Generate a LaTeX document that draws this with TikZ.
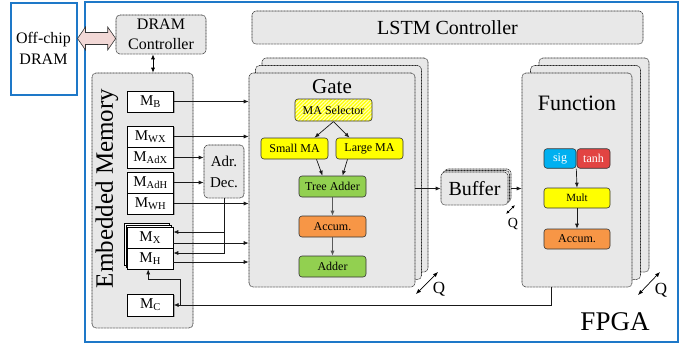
\documentclass[tikz,border=0pt]{standalone}
\usepackage{fontspec}
\setmainfont{Liberation Serif}
\usetikzlibrary{arrows.meta,shadows,patterns.meta,calc}
\newcommand{\fsz}[1]{\fontsize{#1}{#1}\selectfont}
\definecolor{fpgablue}{RGB}{30,120,200}
\definecolor{boxgray}{RGB}{232,232,232}
\definecolor{linkpink}{RGB}{242,216,214}
\definecolor{uyellow}{RGB}{255,255,0}
\definecolor{ugreen}{RGB}{146,208,80}
\definecolor{uorange}{RGB}{247,150,70}
\definecolor{ucyan}{RGB}{0,176,240}
\definecolor{ured}{RGB}{226,68,66}
\begin{document}
\begin{tikzpicture}[x=1pt,y=-1pt,
  arr/.style={-{Latex[length=5pt,width=4pt]}, line width=0.7pt, draw=black!90},
  garr/.style={-{Latex[length=5pt,width=4pt]}, line width=0.7pt, draw=black!65},
  darr/.style={{Latex[length=5pt,width=4pt]}-{Latex[length=5pt,width=4pt]}, line width=0.7pt},
  dotbox/.style={draw=black!85, dash pattern=on 0.9pt off 0.6pt, line width=0.6pt, fill=boxgray, rounded corners=4pt, inner sep=0pt},
  mem/.style={draw, line width=0.7pt, fill=white, inner sep=0pt, minimum width=45.5pt, minimum height=21pt, drop shadow={shadow xshift=1.3pt, shadow yshift=-1.3pt, fill=black!45, opacity=0.7}, font=\fsz{15}},
  stackl/.style={draw, line width=0.6pt, fill=white, inner sep=0pt, minimum width=45.5pt, minimum height=42pt},
  unit/.style={draw=black!80, line width=0.6pt, rounded corners=3pt, inner sep=0pt, minimum width=67pt, minimum height=21pt, font=\fsz{12}},
  qlbl/.style={inner sep=0pt},
]
\useasboundingbox (0,0) rectangle (688,346);

% FPGA and off-chip
\node[draw=fpgablue, line width=2pt, minimum width=593pt, minimum height=340pt, inner sep=0pt] (fpga) at (381.5,172) {};
\node[draw=fpgablue, line width=2pt, minimum width=66pt, minimum height=92pt, align=center, inner sep=0pt, font=\fontsize{16}{21}\selectfont] (offchip) at (43.5,48.5) {Off-chip\\DRAM};
\node[font=\fsz{27}, inner sep=0pt] (fpgalbl) at (615,322) {FPGA};

% DRAM controller and link
\node[dotbox, minimum width=90pt, minimum height=39pt, align=center, font=\fontsize{16}{20}\selectfont] (dramctl) at (161,34.5) {DRAM\\Controller};
\coordinate (lkL) at (offchip.east |- 0,38.5);
\coordinate (lkR) at (dramctl.west |- 0,38.5);
\draw[draw=black!80, fill=linkpink, line width=0.6pt, line join=miter]
  (lkL) -- ++(8,-11.5) -- ++(0,5.5) -- ($(lkR)+(-8,-6)$) -- ++(0,-5.5) -- (lkR)
  -- ++(-8,11.5) -- ++(0,-5.5) -- ($(lkL)+(8,6)$) -- ++(0,5.5) -- cycle;

% LSTM controller
\node[dotbox, minimum width=391pt, minimum height=33pt, font=\fsz{20}] (lstm) at (447.5,27.5) {LSTM Controller};

% Embedded memory
\node[dotbox, minimum width=101pt, minimum height=255pt] (embmem) at (142.5,200.5) {};
\node[rotate=90, font=\fsz{25}, inner sep=0pt] (emlabel) at (107,188.5) {Embedded Memory};

\node[mem] (mB) at (150.5,101.5) {M\textsubscript{B}};
\node[mem] (mWX) at (150.5,136.5) {M\textsubscript{WX}};
\node[mem] (mAdX) at (150.5,157.5) {M\textsubscript{AdX}};
\node[mem] (mAdH) at (150.5,182.5) {M\textsubscript{AdH}};
\node[mem] (mWH) at (150.5,203.5) {M\textsubscript{WH}};
\node[stackl] (xh3) at (147,244.7) {};
\node[stackl] (xh2) at (148.6,246.3) {};
\node[mem] (mX) at (150.2,237.5) {M\textsubscript{X}};
\node[mem] (mH) at (150.2,258.5) {M\textsubscript{H}};
\node[mem, minimum height=22pt] (mC) at (150.5,305) {M\textsubscript{C}};

\node[dotbox, minimum width=40pt, minimum height=53pt, align=center, font=\fontsize{15}{21}\selectfont] (adrdec) at (224,171.5) {Adr.\\Dec.};

% Gate stack
\node[dotbox, minimum width=166pt, minimum height=214pt] (gate3) at (345,165) {};
\node[dotbox, minimum width=166pt, minimum height=214pt] (gate2) at (338.5,172.5) {};
\node[dotbox, minimum width=166pt, minimum height=214pt] (gate) at (332,180) {};
\node[font=\fsz{21}, inner sep=0pt] (gatelbl) at (332,87) {Gate};
\node[unit, minimum width=77pt, minimum height=22pt, preaction={fill=uyellow!30}, pattern={Lines[angle=45,distance=2.6pt,line width=1.2pt]}, pattern color=uyellow] (masel) at (333.5,110) {MA Selector};
\node[unit, fill=uyellow] (smallma) at (294.5,148.5) {Small MA};
\node[unit, fill=uyellow] (largema) at (369.5,148.5) {Large MA};
\node[unit, fill=ugreen] (tree) at (332.5,186.5) {Tree Adder};
\node[unit, fill=uorange] (accum) at (332.5,226.5) {Accum.};
\node[unit, fill=ugreen] (adder) at (332.5,266.5) {Adder};

% Buffer stack
\node[dotbox, minimum width=67pt, minimum height=33pt] (buf3) at (477.5,185.5) {};
\node[dotbox, minimum width=67pt, minimum height=33pt] (buf2) at (476,187) {};
\node[dotbox, minimum width=67pt, minimum height=33pt, font=\fsz{20}] (buffer) at (474.5,188.5) {Buffer};

% Function stack
\node[dotbox, minimum width=110pt, minimum height=214pt] (func3) at (594,165) {};
\node[dotbox, minimum width=110pt, minimum height=214pt] (func2) at (585.5,172.5) {};
\node[dotbox, minimum width=110pt, minimum height=214pt] (func) at (577,180) {};
\node[font=\fsz{22}, inner sep=0pt] (funclbl) at (577,103) {Function};
\node[unit, fill=ucyan, text=white, minimum width=32pt, minimum height=19.5pt] (sig) at (560,158.5) {sig};
\node[unit, fill=ured, text=white, minimum width=33pt, minimum height=19.5pt] (tanh) at (593.5,158.5) {tanh};
\node[unit, fill=uyellow, minimum width=66pt, minimum height=20pt, font=\fsz{11}] (mult) at (577,198) {Mult};
\node[unit, fill=uorange, minimum width=66pt, minimum height=20pt] (faccum) at (577,239) {Accum.};

% Q labels
\node[font=\fsz{17}, qlbl] (q1) at (439,289) {Q};
\coordinate (q1a) at (416,294);
\coordinate (q1b) at (438,272);
\draw[darr] (q1a) -- (q1b);
\node[font=\fsz{14}, qlbl] (q2) at (513,224) {Q};
\coordinate (q2a) at (506,214);
\coordinate (q2b) at (515,205);
\draw[{Latex[length=3.5pt,width=3pt]}-{Latex[length=3.5pt,width=3pt]}, line width=0.7pt] (q2a) -- (q2b);
\node[font=\fsz{17}, qlbl] (q3) at (661,290) {Q};
\coordinate (q3a) at (638,295);
\coordinate (q3b) at (660,272);
\draw[darr] (q3a) -- (q3b);

% Connectors
\coordinate (dc) at ([xshift=-8pt]dramctl.south);
\draw[darr] (dc) -- (dc |- embmem.north);
\draw[arr] (mB) -- (mB -| gate.west);
\draw[arr] (mWX) -- (mWX -| gate.west);
\draw[arr] (mAdX) -- (mAdX -| adrdec.west);
\draw[arr] (mAdH) -- (mAdH -| adrdec.west);
\draw[arr] (mWH) -- (mWH -| gate.west);
\coordinate (xin) at ([yshift=5.5pt]mX.east);
\coordinate (xout) at ([yshift=-5.5pt]mX.east);
\coordinate (hin) at ([yshift=5.5pt]mH.east);
\coordinate (hout) at ([yshift=-3.5pt]mH.east);
\draw[arr] (adrdec.south) |- (hin);
\draw[arr] (adrdec.south |- xin) -- (xin);
\draw[arr] (xout) -- (xout -| gate.west);
\draw[arr] (hout) -- (hout -| gate.west);
\coordinate (fb) at ([xshift=-26pt]func.south);
\draw[arr] (fb) |- (mC.east);
\coordinate (br) at ([xshift=7pt]mC.east);
\coordinate (bh) at ([xshift=-2pt,yshift=-10pt]mH.south);
\draw[arr] (br) |- (bh) -- ([xshift=-2pt]mH.south);
\draw[arr] (gate.east |- buffer.west) -- (buffer.west);
\draw[arr] (buf3.east |- buffer.east) -- (buffer.east -| func.west);
\draw[arr] (masel.south) -- ([xshift=20pt]smallma.north);
\draw[arr] (masel.south) -- ([xshift=-20pt]largema.north);
\draw[arr] ([xshift=22pt]smallma.south) -- ([xshift=-10pt]tree.north);
\draw[arr] ([xshift=-22pt]largema.south) -- ([xshift=10pt]tree.north);
\draw[garr] (tree) -- (accum);
\draw[garr] (accum) -- (adder);
\draw[arr] (sig.south east) -- (mult.north);
\draw[arr] (mult) -- (faccum);
\end{tikzpicture}
\end{document}
